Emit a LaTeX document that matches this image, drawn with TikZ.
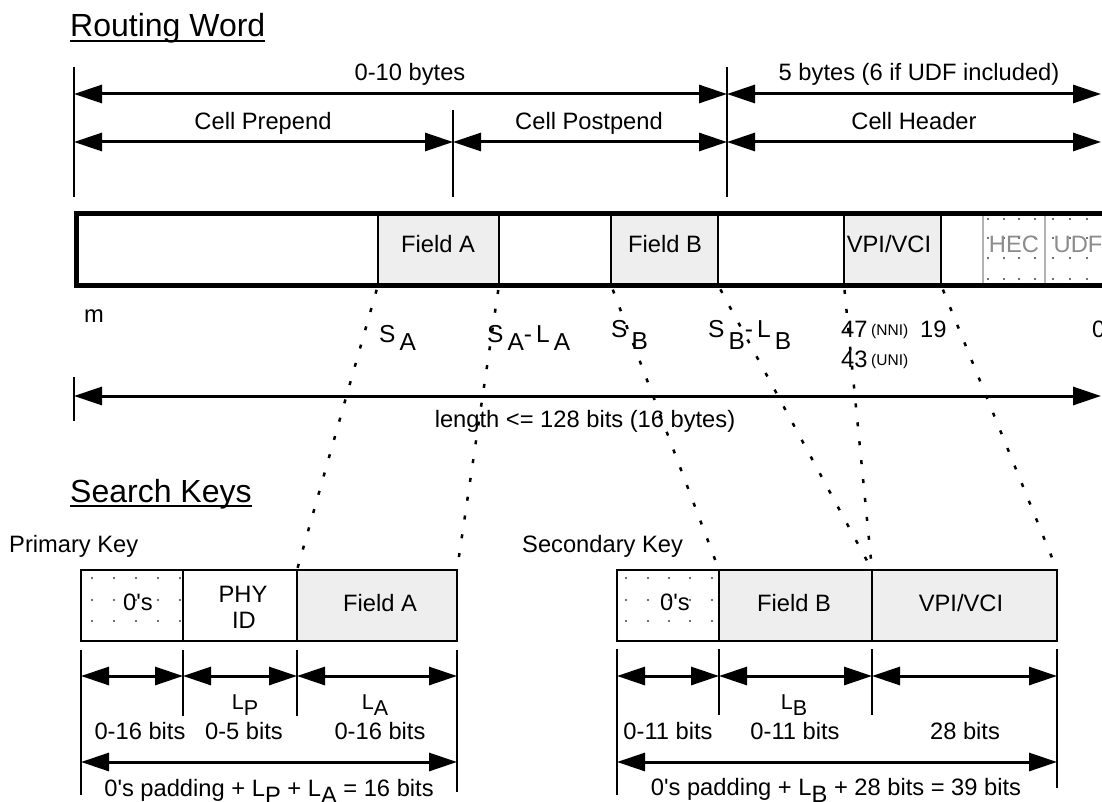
\documentclass[tikz,border=0pt]{standalone}
\usepackage{fontspec}
\setmainfont{Liberation Sans}[Ligatures=TeXOff]
\usetikzlibrary{arrows.meta}
\definecolor{cellg}{gray}{0.935}
\definecolor{hecline}{gray}{0.7}
\definecolor{hectext}{gray}{0.55}
\newcommand\subdn[2][8pt]{\raisebox{-#1}{#2}}
\begin{document}
\begin{tikzpicture}[x=1pt,y=-1pt,
  >={Triangle[length=28pt,width=18pt]},
  dim/.style={line width=3pt,<->},
  tick/.style={line width=2.5pt},
  proj/.style={line width=2.5pt,dash pattern=on 4pt off 15pt,shorten <=5pt},
  t/.style={inner sep=0pt,font=\fontsize{23.7}{28}\selectfont},
  tb/.style={inner sep=0pt,font=\fontsize{32}{37}\selectfont},
  ts/.style={inner sep=0pt,font=\fontsize{15.5}{18}\selectfont},
  tm/.style={inner sep=0pt,font=\fontsize{21.5}{25}\selectfont},
  tl/.style={inner sep=0pt,font=\fontsize{24.5}{28}\selectfont},
  barcell/.style={draw,line width=2pt,minimum height=71pt,inner sep=0pt,outer sep=0pt,anchor=north west},
  keycell/.style={draw,line width=2.5pt,minimum height=71pt,inner sep=0pt,outer sep=0pt,anchor=north west},
  dotc/.style={fill=black!75}
]
\path[use as bounding box] (0,0) rectangle (1102,802);
\clip (0,0) rectangle (1102,802);

% ---------- titles ----------
\node[tb,anchor=base west] (rw) at (70,37) {Routing Word};
\draw[line width=2pt] ([yshift=-4pt]rw.base west) -- ([yshift=-4pt]rw.base east);
\node[tb,anchor=base west] (sk) at (70,502) {Search Keys};
\draw[line width=2pt] ([yshift=-4pt]sk.base west) -- ([yshift=-4pt]sk.base east);

% ---------- top dimension lines ----------
\coordinate (v0a) at (74,67);  \coordinate (v0b) at (74,197);
\coordinate (v1a) at (453,110); \coordinate (v1b) at (453,197);
\coordinate (v2a) at (727,67); \coordinate (v2b) at (727,197);
\draw[tick] (v0a) -- (v0b);
\draw[tick] (v1a) -- (v1b);
\draw[tick] (v2a) -- (v2b);
\coordinate (r1L) at (74,94);  \coordinate (r1M) at (727,94);  \coordinate (r1R) at (1101,94);
\coordinate (r2L) at (74,142); \coordinate (r2P) at (453,142); \coordinate (r2M) at (727,142); \coordinate (r2R) at (1101,142);
\draw[dim] (r1L) -- (r1M);
\draw[dim] (r1M) -- (r1R);
\draw[dim] (r2L) -- (r2P);
\draw[dim] (r2P) -- (r2M);
\draw[dim] (r2M) -- (r2R);
\node[t,anchor=base] (l010) at (410,81) {0-10 bytes};
\node[t,anchor=base] (l5b) at (919,81) {5 bytes (6 if UDF included)};
\node[t,anchor=base] (lpre) at (263,130) {Cell Prepend};
\node[t,anchor=base] (lpost) at (589,130) {Cell Postpend};
\node[t,anchor=base] (lhdr) at (914,130) {Cell Header};

% ---------- routing word bar ----------
\node[barcell,fill=cellg,minimum width=121pt] (fA) at (378,214) {};
\node[barcell,fill=cellg,minimum width=107pt] (fB) at (611,214) {};
\node[barcell,fill=cellg,minimum width=97pt] (vpi) at (844,214) {};
\node[barcell,draw=hecline,line width=1.5pt,minimum width=62pt] (hec) at (983,214) {};
\node[barcell,draw=hecline,line width=1.5pt,minimum width=90pt] (udf) at (1045,214) {};
\foreach \x in {988,1004,1019,1035,1053,1070,1087}
  \foreach \y in {219,238,258,279}
    \fill[dotc] (\x,\y) circle (1.1pt);
\draw[line width=5pt] (76,214) rectangle (1140,285);
\node[t,anchor=base] (tfA) at (438,253) {Field A};
\node[t,anchor=base] (tfB) at (665,253) {Field B};
\node[t,anchor=base] (tvpi) at (889,253) {VPI/VCI};
\node[t,anchor=base,text=hectext] (thec) at (1014,253) {HEC};
\node[t,anchor=base,text=hectext] (tudf) at (1078,253) {UDF};

% ---------- bit labels ----------
\node[t,anchor=base west] (lm) at (84,322) {m};
\node[tl,anchor=base west] (lsa) at (379,342) {S\,\subdn{A}};
\node[tl,anchor=base west] (lsala) at (487,342) {S\,\subdn{A}-\,L\,\subdn{A}};
\node[tl,anchor=base west] (lsb) at (611,337) {S\,\subdn[12pt]{B}};
\node[tl,anchor=base west] (lsblb) at (708,337) {S\,\subdn[12pt]{B}-\,L\,\subdn[12pt]{B}};
\node[t,anchor=base west] (l47) at (841,337) {47};
\node[ts,anchor=base west] (lnni) at (871,335) {(NNI)};
\node[t,anchor=base west] (l19) at (920,337) {19};
\node[t,anchor=base west] (l43) at (841,367) {43};
\node[ts,anchor=base west] (luni) at (871,365) {(UNI)};
\node[t,anchor=base west] (l0) at (1092,337) {0};

% ---------- length arrow ----------
\coordinate (lv0a) at (74,377); \coordinate (lv0b) at (74,421);
\draw[tick] (lv0a) -- (lv0b);
\coordinate (lenL) at (74,396); \coordinate (lenR) at (1101,396);
\draw[dim] (lenL) -- (lenR);
\node[t,anchor=base] (llen) at (585,427) {length <= 128 bits (16 bytes)};

% ---------- primary key ----------
\node[t,anchor=base west] (lpk) at (9,552) {Primary Key};
\node[keycell,minimum width=102pt] (pk0) at (81,570) {};
\node[keycell,minimum width=114pt] (pkP) at (183,570) {};
\node[keycell,fill=cellg,minimum width=160pt] (pkA) at (297,570) {};
\foreach \x in {92,114,136,158,180}
  \foreach \y in {578,600,621}
    \fill[dotc] (\x,\y) circle (1.1pt);
\node[t,anchor=base] (tpk0) at (138,610) {0's};
\node[t,anchor=base] (tphy) at (243,602) {PHY};
\node[t,anchor=base] (tid) at (244,628) {ID};
\node[t,anchor=base] (tpkA) at (380,611) {Field A};

\coordinate (pa0) at (81,650);  \coordinate (pb0) at (81,795);
\coordinate (pa1) at (183,650); \coordinate (pb1) at (183,716);
\coordinate (pa2) at (297,650); \coordinate (pb2) at (297,716);
\coordinate (pa3) at (457,650); \coordinate (pb3) at (457,792);
\draw[tick] (pa0) -- (pb0);
\draw[tick] (pa1) -- (pb1);
\draw[tick] (pa2) -- (pb2);
\draw[tick] (pa3) -- (pb3);
\coordinate (pr0) at (81,676); \coordinate (pr1) at (183,676);
\coordinate (pr2) at (297,676); \coordinate (pr3) at (457,676);
\draw[dim] (pr0) -- (pr1);
\draw[dim] (pr1) -- (pr2);
\draw[dim] (pr2) -- (pr3);
\coordinate (pq0) at (81,762); \coordinate (pq3) at (457,762);
\draw[dim] (pq0) -- (pq3);
\node[tm,anchor=base] (tlp) at (245,709) {L\subdn[6pt]{P}};
\node[tm,anchor=base] (tla) at (375,709) {L\subdn[6pt]{A}};
\node[t,anchor=base] (tp1) at (140,739) {0-16 bits};
\node[t,anchor=base] (tp2) at (244,739) {0-5 bits};
\node[t,anchor=base] (tp3) at (380,739) {0-16 bits};
\node[t,anchor=base] (tpsum) at (269,796) {0's padding + L\subdn[7pt]{P} + L\subdn[7pt]{A} = 16 bits};

% ---------- secondary key ----------
\node[t,anchor=base west] (lsk) at (522,552) {Secondary Key};
\node[keycell,minimum width=102pt] (sk0) at (617,570) {};
\node[keycell,fill=cellg,minimum width=153pt] (skB) at (719,570) {};
\node[keycell,fill=cellg,minimum width=185pt] (skV) at (872,570) {};
\foreach \x in {626,648,669,690,712}
  \foreach \y in {578,600,621}
    \fill[dotc] (\x,\y) circle (1.1pt);
\node[t,anchor=base] (tsk0) at (675,610) {0's};
\node[t,anchor=base] (tskB) at (794,611) {Field B};
\node[t,anchor=base] (tskV) at (961,611) {VPI/VCI};

\coordinate (sa0) at (617,649);  \coordinate (sb0) at (617,795);
\coordinate (sa1) at (719,649);  \coordinate (sb1) at (719,715);
\coordinate (sa2) at (872,649);  \coordinate (sb2) at (872,715);
\coordinate (sa3) at (1057,649); \coordinate (sb3) at (1057,788);
\draw[tick] (sa0) -- (sb0);
\draw[tick] (sa1) -- (sb1);
\draw[tick] (sa2) -- (sb2);
\draw[tick] (sa3) -- (sb3);
\coordinate (sr0) at (617,676); \coordinate (sr1) at (719,676);
\coordinate (sr2) at (872,676); \coordinate (sr3) at (1057,676);
\draw[dim] (sr0) -- (sr1);
\draw[dim] (sr1) -- (sr2);
\draw[dim] (sr2) -- (sr3);
\coordinate (sq0) at (617,762); \coordinate (sq3) at (1057,762);
\draw[dim] (sq0) -- (sq3);
\node[tm,anchor=base] (tlb) at (794,709) {L\subdn[6pt]{B}};
\node[t,anchor=base] (ts1) at (668,739) {0-11 bits};
\node[t,anchor=base] (ts2) at (795,739) {0-11 bits};
\node[t,anchor=base] (ts3) at (965,739) {28 bits};
\node[t,anchor=base] (tssum) at (836,795) {0's padding + L\subdn[7pt]{B} + 28 bits = 39 bits};

% ---------- projections ----------
\draw[proj] (fA.south west) -- (pkA.north west);
\draw[proj] (fA.south east) -- (pkA.north east);
\draw[proj] (fB.south west) -- (skB.north west);
\draw[proj] (fB.south east) -- (skB.north east);
\draw[proj] (vpi.south west) -- (skV.north west);
\draw[proj] (vpi.south east) -- (skV.north east);
\end{tikzpicture}
\end{document}
